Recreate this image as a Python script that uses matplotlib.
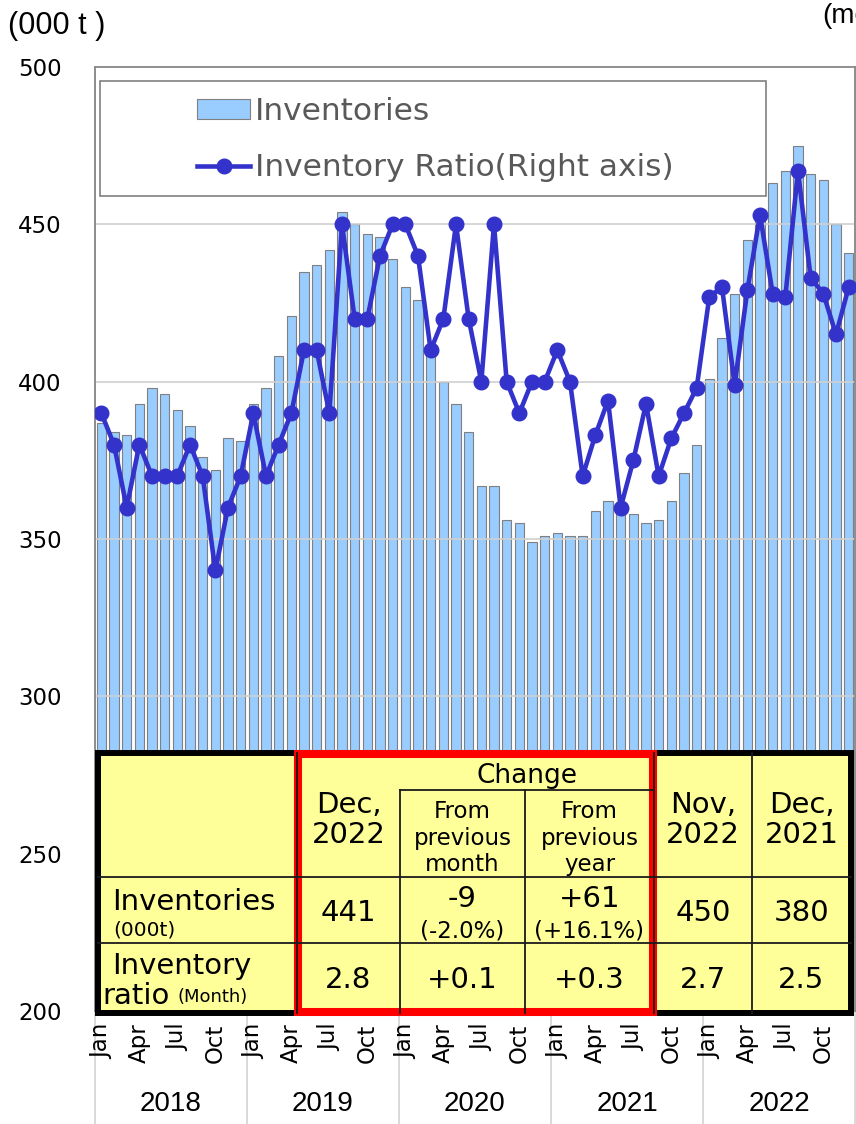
import numpy as np
import matplotlib
matplotlib.use("Agg")
import matplotlib.pyplot as plt
from matplotlib import font_manager
from matplotlib.patches import Rectangle

# data
years = ["2018", "2019", "2020", "2021", "2022"]
month_names = ["Jan", "Apr", "Jul", "Oct"]

inventories = [387, 384, 383, 393, 398, 396, 391, 386, 376, 372, 382, 381,
               393, 398, 408, 421, 435, 437, 442, 454, 450, 447, 446, 439,
               430, 426, 411, 400, 393, 384, 367, 367, 356, 355, 349, 351,
               352, 351, 351, 359, 362, 361, 358, 355, 356, 362, 371, 380,
               401, 414, 428, 445, 452, 463, 467, 475, 466, 464, 450, 441]

ratio = [2.4, 2.3, 2.1, 2.3, 2.2, 2.2, 2.2, 2.3, 2.2, 1.9, 2.1, 2.2,
         2.4, 2.2, 2.3, 2.4, 2.6, 2.6, 2.4, 3.0, 2.7, 2.7, 2.9, 3.0,
         3.0, 2.9, 2.6, 2.7, 3.0, 2.7, 2.5, 3.0, 2.5, 2.4, 2.5, 2.5,
         2.6, 2.5, 2.2, 2.33, 2.44, 2.1, 2.25, 2.43, 2.2, 2.32, 2.4, 2.48,
         2.77, 2.8, 2.49, 2.79, 3.03, 2.78, 2.77, 3.17, 2.83, 2.78, 2.65, 2.8]

# summary table
head_cols = ["Dec,\n2022", "From\nprevious\nmonth", "From\nprevious\nyear", "Nov,\n2022", "Dec,\n2021"]
inv_row = ["441", "-9", "+61", "450", "380"]
inv_pct = ["", "(-2.0%)", "(+16.1%)", "", ""]
ratio_row = ["2.8", "+0.1", "+0.3", "2.7", "2.5"]

names = {f.name for f in font_manager.fontManager.ttflist}
narrow = "Liberation Sans Narrow" if "Liberation Sans Narrow" in names else "Liberation Sans"

W, H = 856, 1124
fig = plt.figure(figsize=(W / 100, H / 100), dpi=100)

# main axes: x 95..855, y 67..1011 (pixels)
ax = fig.add_axes([95 / W, 1 - 1011 / H, 760 / W, 944 / H])
x = np.arange(len(inventories))
bars = ax.bar(x, inventories, width=0.74, color="#99CCFF", edgecolor="#808080",
              linewidth=0.8, label="Inventories", zorder=1)
ax.set_xlim(-0.5, len(inventories) - 0.5)
ax.set_ylim(200, 500)
ax.set_yticks(range(200, 501, 50))
ax.tick_params(axis="y", length=0, pad=24, labelsize=16.5)
ax.yaxis.grid(True, color="#D0D0D0", linewidth=1.2)
ax.set_axisbelow(False)
for s in ax.spines.values():
    s.set_color("#8C8C8C")
    s.set_linewidth(1.2)

tick_pos = [12 * k + m for k in range(len(years)) for m in (0, 3, 6, 9)]
ax.set_xticks(tick_pos)
ax.set_xticklabels(month_names * len(years), rotation=90, fontsize=16.5)
ax.tick_params(axis="x", length=0, pad=9)

# year separators and labels below the axis
sep_tr = ax.get_xaxis_transform()
for k in range(len(years) + 1):
    ax.plot([12 * k - 0.5, 12 * k - 0.5], [0, -0.125], transform=sep_tr,
            color="#D9D9D9", linewidth=1.4, clip_on=False)
for k, yr in enumerate(years):
    ax.text(12 * k + 5.5, -0.099, yr, transform=sep_tr, ha="center", va="center",
            fontsize=20, family=narrow)

ax2 = ax.twinx()
line, = ax2.plot(x, ratio, color="#3333CC", linewidth=3.3, marker="o",
                 markersize=10.5, label="Inventory Ratio(Right axis)", zorder=3)
ax2.set_ylim(0.5, 3.5)
ax2.tick_params(right=False, labelright=False)
for s in ax2.spines.values():
    s.set_color("#8C8C8C")
    s.set_linewidth(1.2)

fig.text(8 / W, 1 - 26 / H, "(000 t )", fontsize=22, family=narrow, va="center", ha="left")
fig.text(822 / W, 1 - 16 / H, "(month)", fontsize=20, family=narrow, va="center", ha="left")

leg = ax2.legend(handles=[bars, line], loc="upper left",
                 bbox_to_anchor=(197 / W, 1 - 97 / H), bbox_transform=fig.transFigure,
                 frameon=False, fontsize=22.5, handlelength=1.7, handleheight=0.62,
                 handletextpad=0.15, labelspacing=0.88, borderpad=0, borderaxespad=0,
                 labelcolor="#595959")

# overlay in pixel coordinates for legend frame and the table
ov = fig.add_axes([0, 0, 1, 1], zorder=10)
ov.set_xlim(0, W)
ov.set_ylim(H, 0)
ov.axis("off")

ov.add_patch(Rectangle((100, 81), 666, 115, facecolor="none", edgecolor="#808080", linewidth=1.2))

# table
ov.add_patch(Rectangle((98, 753), 753, 260, facecolor="#FFFF99", edgecolor="none"))
col_x = [98, 297, 400, 525, 654, 752, 851]
lc = "#1A1A1A"
ov.plot([98, 851], [877, 877], color=lc, lw=1.3)
ov.plot([98, 851], [943, 943], color=lc, lw=1.3)
ov.plot([400, 654], [790, 790], color=lc, lw=1.3)
for cx in (400, 525):
    ov.plot([cx, cx], [790, 1013], color=lc, lw=1.3)
for cx in (297, 654, 752):
    ov.plot([cx, cx], [753, 1013], color=lc, lw=1.3)
ov.add_patch(Rectangle((98, 753), 753, 260, facecolor="none", edgecolor="black", linewidth=4.3))
ov.add_patch(Rectangle((298, 754), 355, 258, facecolor="none", edgecolor="#FF0000", linewidth=5.8))

centers = [(col_x[i] + col_x[i + 1]) / 2 for i in range(1, 6)]
ov.text((400 + 654) / 2, 776, "Change", ha="center", va="center", fontsize=19)
for i, lab in enumerate(head_cols):
    if lab.count("\n") == 2:
        ov.text(centers[i], 838, lab, ha="center", va="center", fontsize=16.5, linespacing=1.17)
    else:
        ov.text(centers[i], 820, lab, ha="center", va="center", fontsize=21, linespacing=1.05)

ov.text(112, 902, "Inventories", ha="left", va="center", fontsize=21)
ov.text(113, 930, "(000t)", ha="left", va="center", fontsize=14.5)
ov.text(112, 966, "Inventory", ha="left", va="center", fontsize=21)
ov.text(102, 996, "ratio", ha="left", va="center", fontsize=21)
ov.text(178, 997, "(Month)", ha="left", va="center", fontsize=13)

for i in range(5):
    if inv_pct[i]:
        ov.text(centers[i], 899, inv_row[i], ha="center", va="center", fontsize=21)
        ov.text(centers[i], 931, inv_pct[i], ha="center", va="center", fontsize=16.5)
    else:
        ov.text(centers[i], 913, inv_row[i], ha="center", va="center", fontsize=21)
    ov.text(centers[i], 980, ratio_row[i], ha="center", va="center", fontsize=21)

fig.savefig("out.png", dpi=100)
